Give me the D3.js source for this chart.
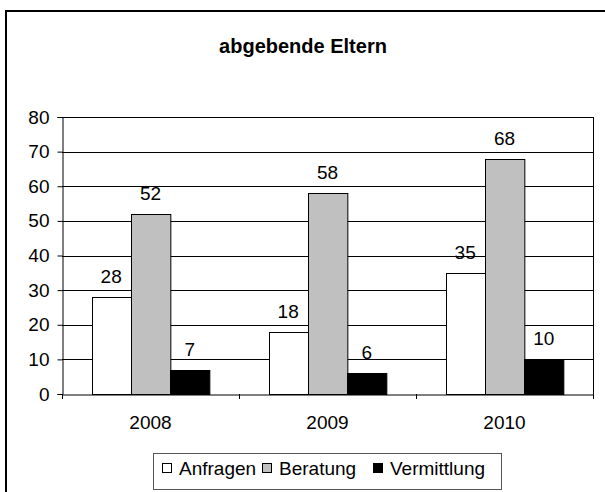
<!DOCTYPE html>
<html>
<head>
<meta charset="utf-8">
<script src="https://cdn.jsdelivr.net/npm/d3@7"></script>
<style>
  body { margin: 0; background: #fff; }
  svg { display: block; font-family: Arial, "Liberation Sans", sans-serif; }
</style>
</head>
<body>
<div class="chart-container"></div>
<script>
const years = ['2008', '2009', '2010'];
const seriesNames = ['Anfragen', 'Beratung', 'Vermittlung'];
const anfragen = [28, 18, 35];
const beratung = [52, 58, 68];
const vermittlung = [7, 6, 10];
const yTicks = [0, 10, 20, 30, 40, 50, 60, 70, 80];
const seriesColors = ['#ffffff', '#c0c0c0', '#000000'];

const width = 605;
const height = 492;
const plot = { left: 62, right: 593, top: 117, bottom: 394 };

function createSvg() {
  return d3.select('.chart-container')
    .append('svg')
    .attr('width', width)
    .attr('height', height);
};

const svg = createSvg();
const values = [anfragen, beratung, vermittlung];
const rows = years.map((year, i) => ({
  year,
  bars: seriesNames.map((name, j) => ({ name, value: values[j][i], color: seriesColors[j] }))
}));

const x0 = d3.scaleBand().domain(years).range([plot.left, plot.right]);
const x1 = d3.scaleBand().domain(seriesNames).range([0, x0.bandwidth()]).paddingOuter(0.75);
const y = d3.scaleLinear().domain([0, 80]).range([plot.bottom, plot.top]);

// outer frame (cut off at the right and bottom like the reference)
svg.append('rect')
  .attr('x', 6).attr('y', 11)
  .attr('width', 700).attr('height', 600)
  .attr('fill', 'none')
  .attr('stroke', '#000')
  .attr('stroke-width', 2);

svg.append('text')
  .attr('x', 303).attr('y', 53)
  .attr('text-anchor', 'middle')
  .attr('font-size', 20)
  .attr('font-weight', 'bold')
  .text('abgebende Eltern');

// gridlines
svg.append('g')
  .selectAll('line')
  .data(yTicks.filter(d => d > 0))
  .join('line')
  .attr('x1', plot.left).attr('x2', plot.right)
  .attr('y1', d => Math.round(y(d)) + 0.5)
  .attr('y2', d => Math.round(y(d)) + 0.5)
  .attr('stroke', '#000');

// right border of the plot area
svg.append('line')
  .attr('x1', plot.right + 0.5).attr('x2', plot.right + 0.5)
  .attr('y1', plot.top).attr('y2', plot.bottom)
  .attr('stroke', '#000');

// bars
const groups = svg.append('g')
  .selectAll('g')
  .data(rows)
  .join('g')
  .attr('transform', d => `translate(${x0(d.year)},0)`);

groups.selectAll('rect')
  .data(d => d.bars)
  .join('rect')
  .attr('x', d => Math.round(x1(d.name)) + 0.5)
  .attr('y', d => Math.round(y(d.value)) + 0.5)
  .attr('width', x1.bandwidth())
  .attr('height', d => Math.round(y(0)) - Math.round(y(d.value)))
  .attr('fill', d => d.color)
  .attr('stroke', '#000');

groups.selectAll('text')
  .data(d => d.bars)
  .join('text')
  .attr('x', d => x1(d.name) + x1.bandwidth() / 2)
  .attr('y', d => y(d.value) - 14)
  .attr('text-anchor', 'middle')
  .attr('font-size', 19)
  .text(d => d.value);

// y axis
const yAxis = svg.append('g')
  .attr('transform', `translate(${plot.left + 0.5},0)`)
  .call(d3.axisLeft(y).tickValues(yTicks).tickSize(5).tickPadding(8));
yAxis.selectAll('text').attr('font-size', 19).attr('fill', '#000').attr('font-family', 'Arial, "Liberation Sans", sans-serif');
yAxis.selectAll('line, path').attr('stroke', '#000');

// x axis
const xAxis = svg.append('g')
  .attr('transform', `translate(0,${plot.bottom + 0.5})`)
  .call(d3.axisBottom(x0).tickSize(0).tickPadding(21));
xAxis.select('.domain').attr('stroke', '#000');
xAxis.selectAll('text').attr('font-size', 19).attr('fill', '#000').attr('font-family', 'Arial, "Liberation Sans", sans-serif');
svg.append('g')
  .selectAll('line')
  .data(d3.range(years.length + 1))
  .join('line')
  .attr('x1', i => Math.round(plot.left + i * x0.step()) + 0.5)
  .attr('x2', i => Math.round(plot.left + i * x0.step()) + 0.5)
  .attr('y1', plot.bottom).attr('y2', plot.bottom + 5)
  .attr('stroke', '#000');

// legend
const legend = svg.append('g');
legend.append('rect')
  .attr('x', 153.5).attr('y', 453.5)
  .attr('width', 348).attr('height', 36)
  .attr('fill', '#fff')
  .attr('stroke', '#555');
const legendX = [162, 262, 373];
const items = legend.selectAll('g')
  .data(seriesNames)
  .join('g')
  .attr('transform', (d, i) => `translate(${legendX[i]},463)`);
items.append('rect')
  .attr('x', 0.5).attr('y', 0.5)
  .attr('width', 9).attr('height', 9)
  .attr('fill', (d, i) => seriesColors[i])
  .attr('stroke', '#000');
items.append('text')
  .attr('x', 17).attr('y', 12)
  .attr('font-size', 19)
  .text(d => d);
</script>
</body>
</html>
